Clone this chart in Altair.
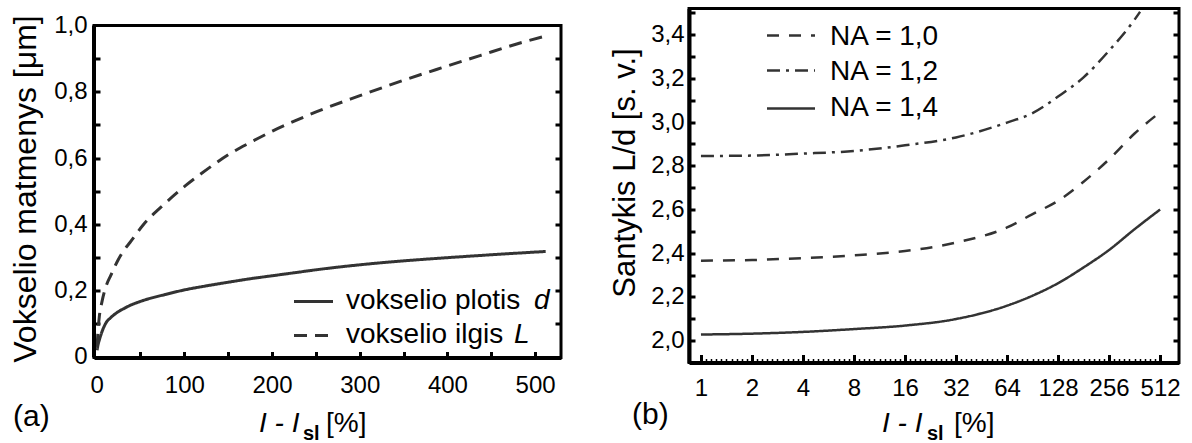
import altair as alt
import pandas as pd

FONT = "Liberation Sans"
INK = "#333333"

# ---------------- panel (a): voxel dimensions vs I - I_sl ----------------
a_x = [0.5, 1.5, 3, 6, 11, 16, 24, 32, 38, 53, 78, 102, 127, 152, 176, 201, 226, 251, 301, 347, 393, 438, 480, 512]
a_d = [0.02, 0.035, 0.05, 0.075, 0.104, 0.118, 0.135, 0.147, 0.155, 0.17, 0.188, 0.203, 0.215, 0.226, 0.236,
       0.245, 0.254, 0.263, 0.278, 0.289, 0.298, 0.306, 0.313, 0.318]
a_L = [0.03, 0.075, 0.12, 0.165, 0.215, 0.245, 0.29, 0.325, 0.345, 0.398, 0.463, 0.518, 0.568, 0.613, 0.648,
       0.682, 0.712, 0.74, 0.789, 0.832, 0.872, 0.91, 0.945, 0.968]
a_series = ["d", "L"]
a_xlabels = [0, 100, 200, 300, 400, 500]
a_xticks = [50, 100, 150, 200, 250, 300, 350, 400, 450, 500]
a_ylabels = [0, 0.2, 0.4, 0.6, 0.8, 1.0]
a_yticks = [0.1, 0.2, 0.3, 0.4, 0.5, 0.6, 0.7, 0.8, 0.9]
a_legend = ["vokselio plotis ", "vokselio ilgis "]
a_legend_it = ["d", "L"]

# ---------------- panel (b): ratio L/d vs I - I_sl (log2) ----------------
b_x = [1, 2, 4, 8, 16, 32, 64, 90, 128, 181, 256, 362, 512]
b_na10 = [2.366, 2.369, 2.378, 2.39, 2.41, 2.449, 2.518, 2.578, 2.64, 2.727, 2.83, 2.948, 3.045]
b_na14 = [2.028, 2.032, 2.04, 2.053, 2.069, 2.099, 2.16, 2.205, 2.263, 2.335, 2.415, 2.51, 2.60]
b_x12 = [1, 2, 4, 8, 16, 32, 64, 90, 128, 181, 256, 362, 390]
b_na12 = [2.845, 2.847, 2.856, 2.868, 2.894, 2.93, 2.998, 3.04, 3.117, 3.205, 3.327, 3.469, 3.505]
b_series = ["NA = 1,0", "NA = 1,2", "NA = 1,4"]
b_xlabels = [1, 2, 4, 8, 16, 32, 64, 128, 256, 512]
b_xminor = [2 ** (k + j / 10) for k in range(9) for j in range(1, 10)]
b_ylabels = [2.0, 2.2, 2.4, 2.6, 2.8, 3.0, 3.2, 3.4]
b_yticks = [2.0, 2.1, 2.2, 2.3, 2.4, 2.5, 2.6, 2.7, 2.8, 2.9, 3.0, 3.1, 3.2, 3.3, 3.4, 3.5]

DASH_A = {"d": [1, 0], "L": [13, 8]}
DASH_B = {"NA = 1,0": [12, 10], "NA = 1,2": [13, 6, 3, 6], "NA = 1,4": [1, 0]}

df_ad = pd.DataFrame({"x": a_x, "v": a_d})
df_aL = pd.DataFrame({"x": a_x, "v": a_L})
df_b10 = pd.DataFrame({"x": b_x, "v": b_na10})
df_b12 = pd.DataFrame({"x": b_x12, "v": b_na12})
df_b14 = pd.DataFrame({"x": b_x, "v": b_na14})

COMMA = "datum.value == 0 ? '0' : replace(format(datum.value, '.1f'), '.', ',')"

lab_common = dict(labelFont=FONT, labelFontSize=24, labelColor="black", ticks=False, tickSize=0,
                  grid=False, labelFlush=False, labelOverlap=False)
tick_common = dict(labels=False, domain=False, grid=False, ticks=True, tickColor="black",
                   title=None)


def txt(text, x, y, size, style="normal", weight="normal", align="left", baseline="alphabetic"):
    return alt.Chart(pd.DataFrame({"t": [text]})).mark_text(
        font=FONT, fontSize=size, fontStyle=style, fontWeight=weight, align=align,
        baseline=baseline, color="black"
    ).encode(x=alt.value(x), y=alt.value(y), text="t:N")


def leg_line(x1, x2, y, dash, width):
    return alt.Chart(pd.DataFrame({"k": [0]})).mark_rule(
        color=INK, strokeWidth=width, strokeDash=dash
    ).encode(x=alt.value(x1), x2=alt.value(x2), y=alt.value(y))


def frame(xs, ys, xd, yd):
    return alt.Chart(pd.DataFrame({"k": [0]})).mark_rect(
        filled=False, stroke="black", strokeWidth=3
    ).encode(
        x=alt.X(datum=xd[0], type="quantitative", scale=xs, axis=None),
        x2=alt.X2(datum=xd[1]),
        y=alt.Y(datum=yd[0], type="quantitative", scale=ys, axis=None),
        y2=alt.Y2(datum=yd[1]),
    )


def edge(xs, ys, xv, yd, width):
    return alt.Chart(pd.DataFrame({"k": [0]})).mark_rule(color="black", strokeWidth=width).encode(
        x=alt.X(datum=xv, type="quantitative", scale=xs, axis=None),
        y=alt.Y(datum=yd[0], type="quantitative", scale=ys, axis=None),
        y2=alt.Y2(datum=yd[1]),
    )


H = 354  # both panels share the same view height; panel (a) frame sits inside it

# ---------------- left chart ----------------
W1 = 467
A_X = [-3, 529.5]
A_Y = [-0.002, 1.0]
xa = alt.Scale(domain=A_X, nice=False, zero=False)
ya = alt.Scale(domain=[-0.0171, 1.0513], nice=False, zero=False)
A_BOTTOM_OFF = 5  # frame bottom sits 5 px above the view bottom

line_d = alt.Chart(df_ad).mark_line(clip=True, strokeWidth=3, color=INK, interpolate="monotone",
                                   strokeDash=DASH_A["d"]).encode(
    x=alt.X("x:Q", scale=xa, axis=alt.Axis(orient="bottom", values=a_xlabels, title=None, offset=-A_BOTTOM_OFF,
                                             labelPadding=16, domain=True, domainColor="black", domainWidth=4,
                                             **lab_common)),
    y=alt.Y("v:Q", scale=ya, axis=alt.Axis(orient="left", values=a_ylabels, labelExpr=COMMA,
                                             labelPadding=7, domain=False, title="Vokselio matmenys [μm]",
                                             titleFont=FONT, titleFontSize=32, titleFontWeight="normal",
                                             titleColor="black", titleX=-59, titleY=180,
                                             titleBaseline="alphabetic", titleAngle=270,
                                             titleAlign="center", **lab_common)),
)
line_L = alt.Chart(df_aL).mark_line(clip=True, strokeWidth=3, color=INK, interpolate="monotone",
                                   strokeDash=DASH_A["L"]).encode(
    x=alt.X("x:Q", scale=xa, axis=None),
    y=alt.Y("v:Q", scale=ya, axis=None),
)
ticks_a1 = alt.Chart(df_ad).mark_point(opacity=0).encode(
    x=alt.X("x:Q", scale=xa, axis=alt.Axis(orient="top", offset=-(H - A_BOTTOM_OFF), values=a_xticks,
                                             tickSize=6, tickWidth=3, **tick_common)),
    y=alt.Y("v:Q", scale=ya, axis=alt.Axis(orient="right", offset=-W1, values=a_yticks, tickSize=6,
                                             tickWidth=3, **tick_common)),
)
ticks_a2 = alt.Chart(df_ad).mark_point(opacity=0).encode(
    x=alt.X("x:Q", scale=xa, axis=None),
    y=alt.Y("v:Q", scale=ya, axis=alt.Axis(orient="left", offset=-W1, values=a_yticks, tickSize=6,
                                             tickWidth=3, **tick_common)),
)
left = alt.layer(
    line_d, line_L, ticks_a1, ticks_a2,
    frame(xa, ya, A_X, A_Y),
    edge(xa, ya, A_X[0], A_Y, 4),
    leg_line(200, 239, 293, DASH_A["d"], 3),
    leg_line(200, 239, 327, DASH_A["L"], 3),
    txt(a_legend[0], 252, 300, 28),
    txt(a_legend_it[0], 440, 300, 28, style="italic"),
    txt(a_legend[1], 252, 334, 28),
    txt(a_legend_it[1], 420, 334, 28, style="italic"),
    txt("I - I", 165, 423, 28, style="italic"),
    txt("sl", 209, 431, 20, weight="bold"),
    txt("[%]", 232, 423, 28),
    txt("(a)", -81, 417, 30),
).resolve_axis(x="independent", y="independent").properties(width=W1, height=H)

# ---------------- right chart ----------------
W2 = 490
B_X = [0.85, 662]
B_Y = [1.9, 3.52]
xb = alt.Scale(type="log", base=2, domain=B_X, nice=False, zero=False)
yb = alt.Scale(domain=B_Y, nice=False, zero=False)


def b_line(df, name, axes=False):
    if axes:
        xax = alt.Axis(orient="bottom", values=b_xlabels, format="d", title=None, labelPadding=14,
                       domain=True, domainColor="black", domainWidth=4, **lab_common)
        yax = alt.Axis(orient="left", values=b_ylabels, labelExpr=COMMA, labelPadding=5,
                       domain=True, domainColor="black", domainWidth=4, title="Santykis L/d [s. v.]",
                       titleFont=FONT, titleFontSize=31, titleFontWeight="normal",
                       titleColor="black", titleX=-55, titleY=164, titleBaseline="alphabetic",
                       titleAngle=270, titleAlign="center", **lab_common)
        x = alt.X("x:Q", scale=xb, axis=xax)
        y = alt.Y("v:Q", scale=yb, axis=yax)
    else:
        x = alt.X("x:Q", scale=xb, axis=None)
        y = alt.Y("v:Q", scale=yb, axis=None)
    return alt.Chart(df).mark_line(clip=True, strokeWidth=2.5, color=INK, interpolate="monotone",
                                   strokeDash=DASH_B[name]).encode(x=x, y=y)


ticks_b1 = alt.Chart(df_b14).mark_point(opacity=0).encode(
    x=alt.X("x:Q", scale=xb, axis=alt.Axis(orient="top", offset=-H, values=b_xlabels, tickSize=8,
                                             tickWidth=3, **tick_common)),
    y=alt.Y("v:Q", scale=yb, axis=alt.Axis(orient="right", offset=-W2, values=b_yticks, tickSize=6,
                                             tickWidth=3, **tick_common)),
)
ticks_b2 = alt.Chart(df_b14).mark_point(opacity=0).encode(
    x=alt.X("x:Q", scale=xb, axis=alt.Axis(orient="top", offset=-H, values=b_xminor, tickSize=4,
                                             tickWidth=1.5, **tick_common)),
    y=alt.Y("v:Q", scale=yb, axis=alt.Axis(orient="left", offset=-W2, values=b_yticks, tickSize=6,
                                             tickWidth=3, **tick_common)),
)
right = alt.layer(
    b_line(df_b14, b_series[2], axes=True),
    b_line(df_b10, b_series[0]),
    b_line(df_b12, b_series[1]),
    ticks_b1, ticks_b2,
    frame(xb, yb, B_X, B_Y),
    leg_line(78, 126, 27, DASH_B[b_series[0]], 2.5),
    leg_line(78, 126, 62, DASH_B[b_series[1]], 2.5),
    leg_line(78, 126, 100, DASH_B[b_series[2]], 2.5),
    txt(b_series[0], 141, 28, 28, baseline="middle"),
    txt(b_series[1], 141, 63, 28, baseline="middle"),
    txt(b_series[2], 141, 99, 28, baseline="middle"),
    txt("I - I", 193, 423, 28, style="italic"),
    txt("sl", 238, 431, 20, weight="bold"),
    txt("[%]", 265, 423, 28),
    txt("(b)", -57, 415, 30),
).resolve_axis(x="independent", y="independent").properties(width=W2, height=H)

chart = alt.hconcat(left, right, spacing=46).configure_view(
    strokeWidth=0
).properties(padding={"left": 8, "top": 6.5, "right": 0, "bottom": 0})

chart.save("out.html", embed_options={"renderer": "svg", "actions": False})
